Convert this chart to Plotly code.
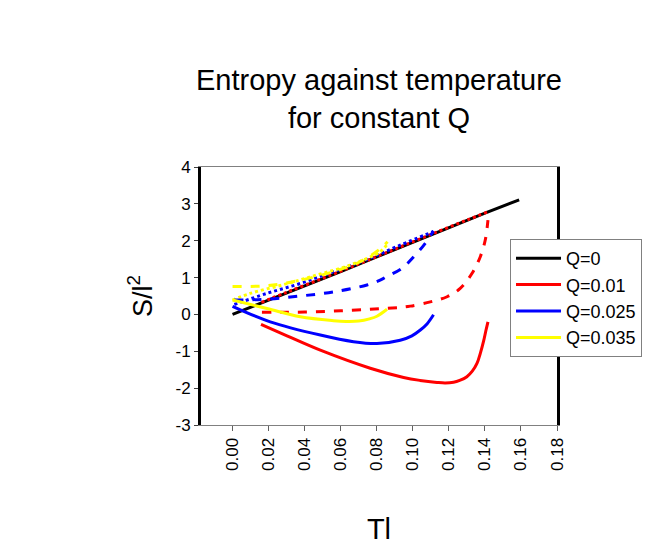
import plotly.graph_objects as go

# Q=0
q0_x = [0, 0.02, 0.04, 0.06, 0.08, 0.10, 0.12, 0.14, 0.159]
q0_y = [0, 0.38, 0.77, 1.16, 1.56, 1.96, 2.36, 2.75, 3.11]

# Q=0.01
q1_solid_x = [0.0158, 0.0302, 0.0487, 0.0764, 0.0949, 0.104, 0.1134, 0.118, 0.1226, 0.126, 0.130, 0.133,
              0.1356, 0.1375, 0.1393, 0.1405, 0.1417]
q1_solid_y = [-0.27, -0.58, -0.97, -1.46, -1.71, -1.79, -1.845, -1.86, -1.84, -1.79, -1.69, -1.54,
              -1.33, -1.05, -0.72, -0.45, -0.20]
q1_dash_x = [0.0163, 0.03, 0.045, 0.06, 0.075, 0.086, 0.093, 0.0986, 0.1097, 0.119, 0.1263, 0.1328,
             0.1374, 0.1402, 0.1417]
q1_dash_y = [0.06, 0.06, 0.07, 0.10, 0.14, 0.17, 0.19, 0.225, 0.34, 0.48, 0.705, 1.11,
             1.56, 2.02, 2.56]
q1_dot_x = [0.016, 0.03, 0.05, 0.07, 0.09, 0.11, 0.13, 0.1415]
q1_dot_y = [0.33, 0.60, 0.98, 1.37, 1.77, 2.17, 2.56, 2.78]

# Q=0.025
q2_solid_x = [0, 0.0209, 0.0487, 0.0671, 0.0801, 0.093, 0.0995, 0.104, 0.108, 0.1115]
q2_solid_y = [0.22, -0.20, -0.56, -0.74, -0.79, -0.70, -0.58, -0.43, -0.25, -0.01]
q2_dash_x = [0.001, 0.019, 0.0376, 0.056, 0.0746, 0.0819, 0.086, 0.094, 0.1014, 0.1069, 0.1106, 0.1115]
q2_dash_y = [0.39, 0.415, 0.50, 0.61, 0.80, 0.93, 1.04, 1.25, 1.61, 1.93, 2.20, 2.26]
q2_dot_x = [0.001, 0.019, 0.0376, 0.056, 0.075, 0.093, 0.1115]
q2_dot_y = [0.27, 0.57, 0.84, 1.16, 1.50, 1.88, 2.25]

# Q=0.035
q3_solid_x = [0, 0.0191, 0.0376, 0.056, 0.063, 0.07, 0.076, 0.0801, 0.0857]
q3_solid_y = [0.39, 0.16, -0.065, -0.17, -0.19, -0.18, -0.12, -0.05, 0.14]
q3_dash_x = [0, 0.0191, 0.0376, 0.056, 0.0708, 0.0819, 0.086]
q3_dash_y = [0.76, 0.78, 0.93, 1.16, 1.43, 1.78, 1.97]
q3_dot_x = [0, 0.0098, 0.0283, 0.0468, 0.0653, 0.0819, 0.0857]
q3_dot_y = [0.39, 0.57, 0.81, 1.07, 1.34, 1.70, 1.90]

x_ticks = [0, 0.02, 0.04, 0.06, 0.08, 0.10, 0.12, 0.14, 0.16, 0.18]
y_ticks = [-3, -2, -1, 0, 1, 2, 3, 4]
y_labels = ["-3", "-2", "-1", "0", "1", "2", "3", "4"]

FONT = "Liberation Sans, Arial, sans-serif"

fig = go.Figure()


def add(x, y, color, dash, name=None, shape="spline"):
    fig.add_trace(go.Scatter(
        x=x, y=y, mode="lines", name=name,
        showlegend=name is not None,
        line=dict(color=color, width=3, dash=dash, shape=shape),
    ))


add(q0_x, q0_y, "black", "solid", shape="linear")
add(q1_dot_x, q1_dot_y, "#ff0000", "dot")
add(q2_dot_x, q2_dot_y, "#0000ff", "dot")
add(q3_dot_x, q3_dot_y, "#ffff00", "dot")
add(q1_dash_x, q1_dash_y, "#ff0000", "dash")
add(q2_dash_x, q2_dash_y, "#0000ff", "dash")
add(q3_dash_x, q3_dash_y, "#ffff00", "dash")
add(q1_solid_x, q1_solid_y, "#ff0000", "solid")
add(q2_solid_x, q2_solid_y, "#0000ff", "solid")
add(q3_solid_x, q3_solid_y, "#ffff00", "solid")

# legend entries (solid lines only)
for nm, col in [("Q=0", "black"), ("Q=0.01", "#ff0000"), ("Q=0.025", "#0000ff"), ("Q=0.035", "#ffff00")]:
    fig.add_trace(go.Scatter(x=[None], y=[None], mode="lines", name=nm,
                             line=dict(color=col, width=3)))

# page adds 8px body margin, so the figure is a bit smaller than the window
fig.update_layout(
    width=651, height=537,
    margin=dict(l=193, r=102, t=159, b=120),
    paper_bgcolor="white", plot_bgcolor="white",
    font=dict(family=FONT, color="black", size=17),
    title=dict(text="Entropy against temperature<br>for constant Q",
               font=dict(size=29, family=FONT), x=0.5, xref="paper",
               y=1 - 82 / 537, yref="container", yanchor="middle"),
    legend=dict(x=0.868, xanchor="left", y=0.721, yanchor="top",
                bgcolor="white", bordercolor="#808080", borderwidth=1,
                font=dict(size=18, family=FONT), itemwidth=45, tracegroupgap=0),
)

fig.update_xaxes(
    range=[-0.0175, 0.18], tickvals=x_ticks, tickformat=".2f", tickangle=-90,
    showgrid=False, zeroline=False, automargin=False,
    showline=True, linecolor="#808080", linewidth=1, mirror=True,
    ticks="outside", ticklen=5, tickcolor="#606060",
    tickfont=dict(size=17),
    title=dict(text="Tl", font=dict(size=29), standoff=54),
)
fig.update_yaxes(
    range=[-3, 4], tickvals=y_ticks, ticktext=y_labels,
    showgrid=False, zeroline=False, automargin=False,
    showline=True, linecolor="black", linewidth=3, mirror=True,
    ticks="outside", ticklen=4, tickcolor="#404040",
    tickfont=dict(size=17),
    title=dict(text="S/l<sup>2</sup>", font=dict(size=27), standoff=16),
)

fig.write_html("out.html")
